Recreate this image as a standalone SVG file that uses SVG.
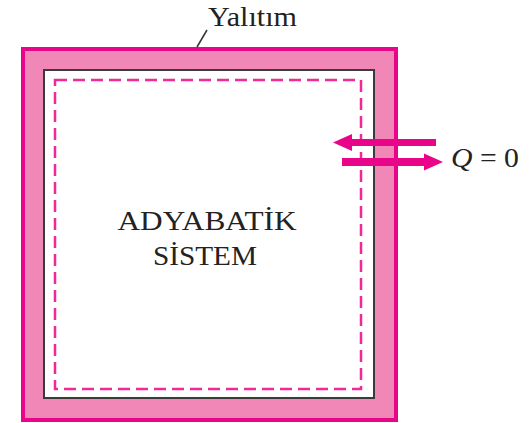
<svg xmlns="http://www.w3.org/2000/svg" width="529" height="423" viewBox="0 0 529 423">
<style>
.lbl{font-family:"Liberation Serif","Times New Roman",serif;fill:#222}
.arr{fill:#e8058a}
</style>
<rect width="529" height="423" fill="#ffffff"/>
<g id="insulation">
<rect x="23" y="49" width="373" height="371" fill="#f187b6" stroke="#e8058a" stroke-width="4"/>
</g>
<g id="system">
<rect x="44" y="70" width="330" height="328" fill="#ffffff" stroke="#3a3a3a" stroke-width="2"/>
<rect x="55" y="80" width="306" height="309" fill="none" stroke="#f0289a" stroke-width="2.5" stroke-dasharray="12 6"/>
<text class="lbl" x="207" y="230" font-size="27" text-anchor="middle" textLength="179" lengthAdjust="spacingAndGlyphs">ADYABATİK</text>
<text class="lbl" x="205" y="265" font-size="27" text-anchor="middle" textLength="104" lengthAdjust="spacingAndGlyphs">SİSTEM</text>
</g>
<g id="label-yalitim">
<text class="lbl" x="208" y="26" font-size="27" textLength="89" lengthAdjust="spacingAndGlyphs">Yalıtım</text>
</g>
<g id="connectors">
<line x1="197" y1="47" x2="207" y2="30" stroke="#333" stroke-width="1.5"/>
<polygon class="arr" points="333,142.5 352,134 352,139 436,139 436,146 352,146 352,151"/>
<polygon class="arr" points="443,162 424,153.5 424,158 342,158 342,166 424,166 424,170.5"/>
</g>
<g id="label-q">
<text class="lbl" x="451" y="167" font-size="27" textLength="68" lengthAdjust="spacingAndGlyphs"><tspan font-style="italic">Q</tspan> = 0</text>
</g>
</svg>
